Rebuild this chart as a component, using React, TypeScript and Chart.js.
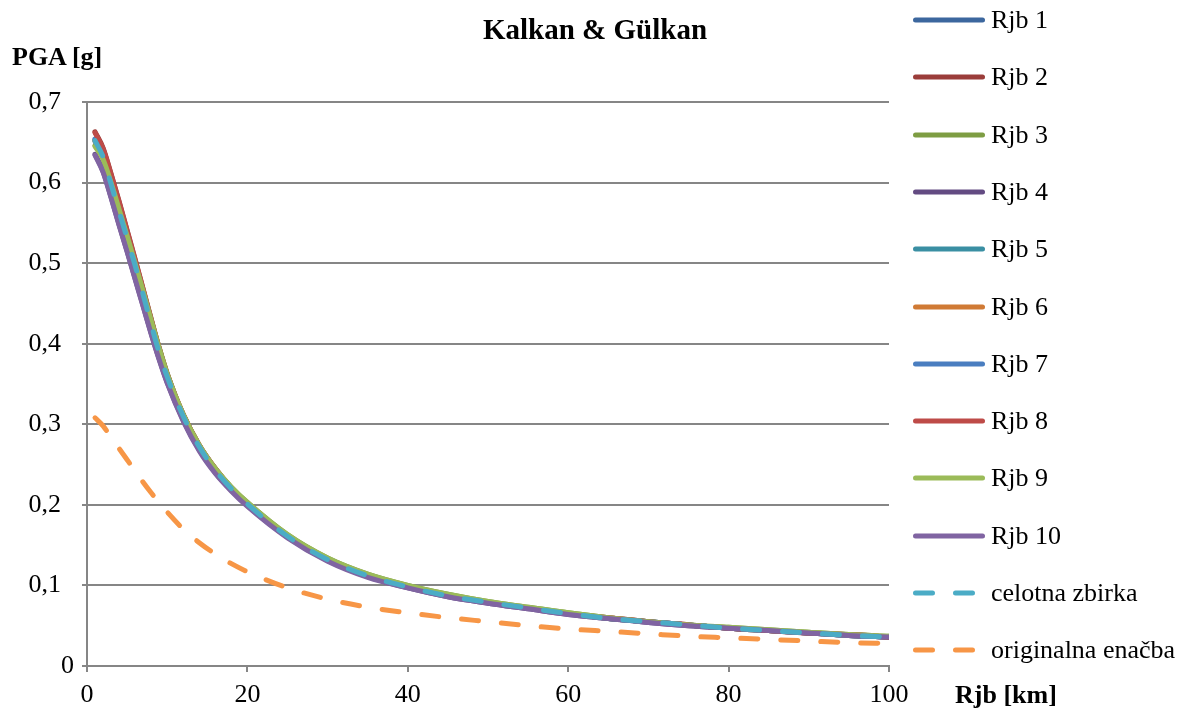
import React, { useEffect, useRef } from 'react';
import { Chart, registerables } from 'chart.js';

Chart.register(...registerables);

// Distance Rjb [km]
const rjbKm = [1, 2, 3, 4, 5, 6, 7, 8, 9, 10, 12, 14, 16, 18, 20, 25, 30, 35, 40, 45, 50, 55, 60, 65, 70, 75, 80, 85, 90, 95, 100];

// PGA [g] per series
const rjb1 = [0.653, 0.633, 0.600, 0.565, 0.531, 0.497, 0.461, 0.425, 0.390, 0.359, 0.310, 0.272, 0.243, 0.220, 0.201, 0.161, 0.132, 0.112, 0.098, 0.087, 0.079, 0.072, 0.065, 0.059, 0.055, 0.051, 0.047, 0.044, 0.041, 0.038, 0.036];
const rjb2 = [0.663, 0.643, 0.611, 0.577, 0.541, 0.505, 0.468, 0.431, 0.395, 0.363, 0.312, 0.274, 0.245, 0.221, 0.202, 0.162, 0.133, 0.113, 0.099, 0.088, 0.079, 0.072, 0.065, 0.060, 0.055, 0.051, 0.047, 0.044, 0.041, 0.039, 0.036];
const rjb3 = [0.646, 0.630, 0.601, 0.568, 0.535, 0.501, 0.466, 0.430, 0.395, 0.363, 0.312, 0.274, 0.245, 0.222, 0.203, 0.163, 0.134, 0.114, 0.100, 0.089, 0.080, 0.073, 0.066, 0.060, 0.055, 0.051, 0.048, 0.045, 0.042, 0.039, 0.037];
const rjb4 = [0.635, 0.614, 0.582, 0.548, 0.515, 0.481, 0.447, 0.413, 0.381, 0.352, 0.305, 0.268, 0.240, 0.218, 0.199, 0.160, 0.131, 0.111, 0.097, 0.086, 0.078, 0.071, 0.064, 0.059, 0.054, 0.050, 0.047, 0.044, 0.041, 0.038, 0.036];
const rjb5 = [0.651, 0.631, 0.598, 0.563, 0.530, 0.496, 0.461, 0.424, 0.389, 0.358, 0.310, 0.272, 0.243, 0.220, 0.201, 0.161, 0.132, 0.112, 0.098, 0.087, 0.079, 0.072, 0.065, 0.059, 0.055, 0.051, 0.047, 0.044, 0.041, 0.038, 0.036];
const rjb6 = [0.652, 0.632, 0.599, 0.565, 0.531, 0.497, 0.462, 0.425, 0.390, 0.359, 0.310, 0.272, 0.243, 0.220, 0.201, 0.161, 0.132, 0.112, 0.098, 0.087, 0.079, 0.072, 0.065, 0.059, 0.055, 0.051, 0.047, 0.044, 0.041, 0.038, 0.036];
const rjb7 = [0.654, 0.634, 0.600, 0.566, 0.532, 0.498, 0.462, 0.425, 0.390, 0.360, 0.310, 0.272, 0.243, 0.220, 0.201, 0.161, 0.132, 0.112, 0.098, 0.087, 0.079, 0.072, 0.065, 0.059, 0.055, 0.051, 0.047, 0.044, 0.041, 0.038, 0.036];
const rjb8 = [0.662, 0.642, 0.610, 0.576, 0.540, 0.504, 0.467, 0.430, 0.394, 0.362, 0.312, 0.274, 0.245, 0.221, 0.202, 0.162, 0.133, 0.113, 0.099, 0.088, 0.079, 0.072, 0.065, 0.060, 0.055, 0.051, 0.047, 0.044, 0.041, 0.039, 0.036];
const rjb9 = [0.645, 0.629, 0.600, 0.567, 0.534, 0.500, 0.465, 0.429, 0.394, 0.362, 0.312, 0.274, 0.245, 0.222, 0.203, 0.163, 0.134, 0.114, 0.100, 0.089, 0.080, 0.073, 0.066, 0.060, 0.055, 0.051, 0.048, 0.045, 0.042, 0.039, 0.037];
const rjb10 = [0.634, 0.613, 0.581, 0.547, 0.514, 0.480, 0.446, 0.412, 0.380, 0.351, 0.304, 0.267, 0.239, 0.217, 0.198, 0.159, 0.130, 0.110, 0.097, 0.086, 0.078, 0.071, 0.064, 0.059, 0.054, 0.050, 0.047, 0.044, 0.041, 0.038, 0.036];
const celotnaZbirka = [0.652, 0.632, 0.598, 0.564, 0.531, 0.497, 0.461, 0.424, 0.389, 0.359, 0.310, 0.272, 0.243, 0.220, 0.201, 0.161, 0.132, 0.112, 0.098, 0.087, 0.079, 0.072, 0.065, 0.059, 0.055, 0.051, 0.047, 0.044, 0.041, 0.038, 0.036];
const originalnaEnacba = [0.308, 0.298, 0.284, 0.270, 0.256, 0.242, 0.228, 0.215, 0.203, 0.191, 0.170, 0.153, 0.139, 0.127, 0.117, 0.097, 0.083, 0.073, 0.066, 0.060, 0.055, 0.050, 0.046, 0.043, 0.040, 0.037, 0.035, 0.033, 0.031, 0.029, 0.028];

const seriesNames = ['Rjb 1', 'Rjb 2', 'Rjb 3', 'Rjb 4', 'Rjb 5', 'Rjb 6', 'Rjb 7', 'Rjb 8', 'Rjb 9', 'Rjb 10', 'celotna zbirka', 'originalna enačba'];
const seriesColors = ['#3C679E', '#9B3D3A', '#7E9D43', '#634B82', '#3A8FA3', '#D07A35', '#4A7EC0', '#BE4B48', '#9BBB59', '#8064A2', '#4BACC6', '#F79646'];
const dashedSeries = [false, false, false, false, false, false, false, false, false, false, true, true];

// y tick labels (decimal comma); the non-zero ones sit one figure-width further left, as in the original
const yTickLabels = ['0', '0,1\u2007', '0,2\u2007', '0,3\u2007', '0,4\u2007', '0,5\u2007', '0,6\u2007', '0,7\u2007'];
const chartTitle = 'Kalkan & Gülkan';
const yAxisTitle = 'PGA [g]';
const xAxisTitle = 'Rjb [km]';

const FONT = '"Liberation Serif", "Times New Roman", serif';
const GRID = '#868686';

export default function App() {
  const ref = useRef<HTMLCanvasElement>(null);

  useEffect(() => {
    const allSeries = [rjb1, rjb2, rjb3, rjb4, rjb5, rjb6, rjb7, rjb8, rjb9, rjb10, celotnaZbirka, originalnaEnacba];
    const datasets = allSeries.map((vals, i) => ({
      label: seriesNames[i],
      data: vals.map((y, k) => ({ x: rjbKm[k], y })),
      borderColor: seriesColors[i],
      backgroundColor: seriesColors[i],
      borderWidth: 5,
      borderDash: dashedSeries[i] ? [17, 23] : [],
      borderCapStyle: 'round' as const,
      borderJoinStyle: 'round' as const,
      pointRadius: 0,
      cubicInterpolationMode: 'monotone' as const,
      order: allSeries.length - i,
    }));
    const tickFont = { family: FONT, size: 26 };
    const chart = new Chart(ref.current!, {
      type: 'line',
      data: { datasets },
      options: {
        animation: false,
        responsive: false,
        layout: { padding: { left: 0, right: 292, top: 102, bottom: 0 } },
        plugins: {
          legend: { display: false },
          title: { display: false },
          tooltip: { enabled: false },
        },
        scales: {
          x: {
            type: 'linear',
            min: 0,
            max: 100,
            afterFit: (s: any) => { s.height = 47; },
            ticks: { stepSize: 20, font: tickFont, color: '#000', padding: 8, maxRotation: 0 },
            grid: { drawOnChartArea: false, drawTicks: true, tickLength: 6, color: GRID, lineWidth: 2 },
            border: { display: true, color: GRID, width: 2 },
          },
          y: {
            type: 'linear',
            min: 0,
            max: 0.7,
            afterFit: (s: any) => { s.width = 87; },
            ticks: {
              stepSize: 0.1,
              font: tickFont,
              color: '#000',
              padding: 8,
              callback: (v: any) => yTickLabels[Math.round(Number(v) * 10)] ?? '',
            },
            grid: { drawTicks: true, tickLength: 5, color: GRID, lineWidth: 2 },
            border: { display: true, color: GRID, width: 2 },
          },
        },
      },
    });
    return () => chart.destroy();
  }, []);

  const textBase: React.CSSProperties = {
    position: 'absolute',
    fontFamily: FONT,
    color: '#000',
    whiteSpace: 'nowrap',
    lineHeight: 1,
    transform: 'translateY(-50%)',
  };

  return (
    <div style={{ position: 'absolute', left: 0, top: 0, width: 1181, height: 713, overflow: 'hidden', background: '#fff' }}>
      <canvas ref={ref} width={1181} height={713} style={{ position: 'absolute', left: 0, top: 0, width: 1181, height: 713 }} />
      <div style={{ ...textBase, left: 595, top: 29, fontSize: 29, fontWeight: 'bold', transform: 'translate(-50%, -50%)' }}>{chartTitle}</div>
      <div style={{ ...textBase, left: 12, top: 57, fontSize: 26, fontWeight: 'bold' }}>{yAxisTitle}</div>
      <div style={{ ...textBase, left: 955, top: 695, fontSize: 26, fontWeight: 'bold' }}>{xAxisTitle}</div>
      {seriesNames.map((name, i) => {
        const cy = 20 + i * 57.3;
        return (
          <div key={name} style={{ position: 'absolute', left: 910, top: cy - 10, height: 20, width: 270 }}>
            <svg width={80} height={20} style={{ position: 'absolute', left: 0, top: 0 }}>
              <line
                x1={5.5}
                y1={10}
                x2={dashedSeries[i] ? 80 : 72.5}
                y2={10}
                stroke={seriesColors[i]}
                strokeWidth={5}
                strokeLinecap="round"
                strokeDasharray={dashedSeries[i] ? '17 23' : undefined}
              />
            </svg>
            <div style={{ ...textBase, left: 81, top: 10, fontSize: 26 }}>{name}</div>
          </div>
        );
      })}
    </div>
  );
}
